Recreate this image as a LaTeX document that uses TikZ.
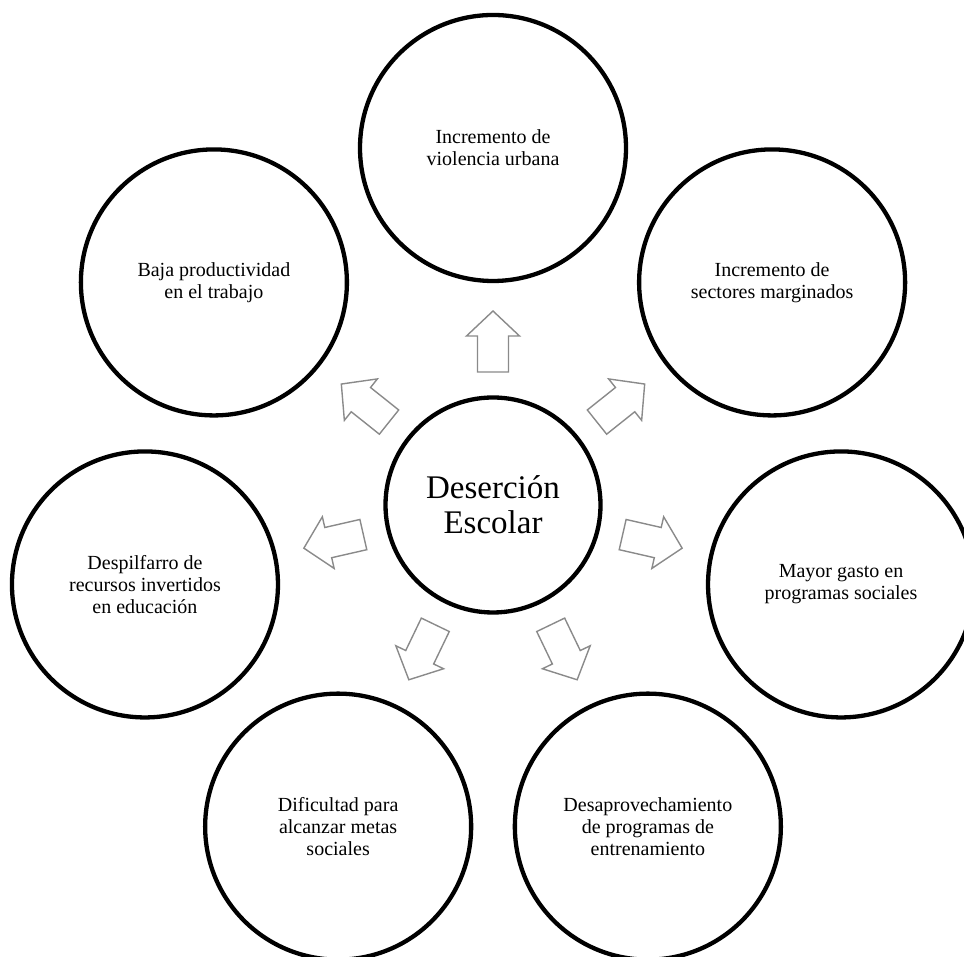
\documentclass[tikz,border=0pt]{standalone}
\usepackage{fontspec}
\setmainfont{Liberation Serif}
\usetikzlibrary{calc}
\definecolor{arrowgray}{HTML}{8A8A8A}
\tikzset{
  outer/.style={circle, draw=black, line width=4.3pt, minimum size=266pt, inner sep=0pt,
    align=center, font=\fontsize{20}{22}\selectfont},
  hub/.style={circle, draw=black, line width=4.3pt, minimum size=215pt, inner sep=0pt,
    align=center, font=\fontsize{33}{35}\selectfont},
  blockarrow/.style={draw=arrowgray, line width=1.4pt, fill=white, line join=miter}
}
\begin{document}
\begin{tikzpicture}[x=1pt,y=1pt]
\useasboundingbox (0,0) rectangle (964,957);
\node[hub] (c) at (493,452) {Deserción\\Escolar};
\path (c) ++(90:357)     node[outer] (n1) {Incremento de\\violencia urbana};
\path (c) ++(38.57:357)  node[outer] (n2) {Incremento de\\sectores marginados};
\path (c) ++(-12.86:357) node[outer] (n3) {Mayor gasto en\\programas sociales};
\path (c) ++(-64.29:357) node[outer] (n4) {Desaprovechamiento\\de programas de\\entrenamiento};
\path (c) ++(-115.71:357) node[outer] (n5) {Dificultad para\\alcanzar metas\\sociales};
\path (c) ++(192.86:357) node[outer] (n6) {Despilfarro de\\recursos invertidos\\en educación};
\path (c) ++(141.43:357) node[outer] (n7) {Baja productividad\\en el trabajo};
\foreach \a in {90,38.57,-12.86,-64.29,-115.71,192.86,141.43}{
  \draw[blockarrow, shift={(c.center)}, rotate=\a]
    (133,-15.5) -- (169,-15.5) -- (169,-26.5) -- (194,0) -- (169,26.5) -- (169,15.5) -- (133,15.5) -- cycle;
}
\end{tikzpicture}
\end{document}
